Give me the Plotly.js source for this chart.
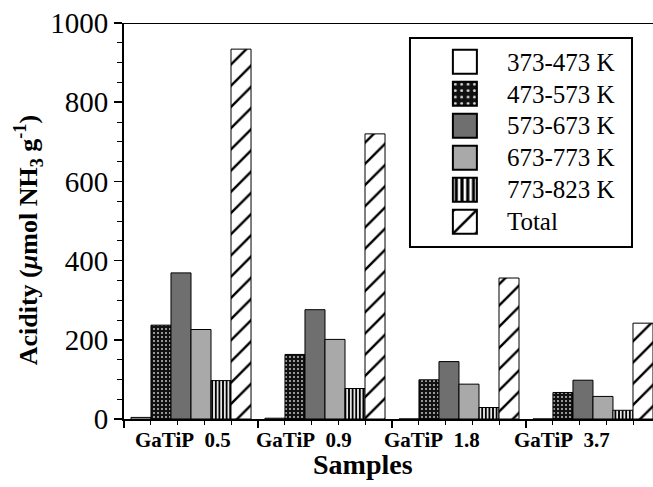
<!DOCTYPE html>
<html>
<head>
<meta charset="utf-8">
<script src="https://cdn.plot.ly/plotly-3.0.1.min.js"></script>
<style>html,body{margin:0;padding:0;background:#fff;}#chart{width:653px;height:487px;}</style>
</head>
<body>
<div id="chart"></div>
<script>
// ---- data ----
const categories = ['GaTiP\u00a0\u00a00.5', 'GaTiP\u00a0\u00a00.9', 'GaTiP\u00a0\u00a01.8', 'GaTiP\u00a0\u00a03.7'];
const seriesNames = ['373-473 K', '473-573 K', '573-673 K', '673-773 K', '773-823 K', 'Total'];
const acid373_473 = [4, 2, 0, 0];
const acid473_573 = [237, 163, 99, 67];
const acid573_673 = [369, 276, 145, 98];
const acid673_773 = [226, 201, 88, 57];
const acid773_823 = [97, 77, 29, 22];
const acidTotal = [934, 720, 356, 242];
const yTickVals = [0, 200, 400, 600, 800, 1000];

// ---- styles ----
const serif = 'Liberation Serif, Times New Roman, serif';
const xIdx = categories.map((_, i) => i);
const line = {color: '#000', width: 1};
const styles = [
  {color: '#ffffff', line: line},
  {color: '#333', line: line, pattern: {shape: '.', bgcolor: '#111111', fgcolor: '#d8d8d8', size: 4, solidity: 0.16, fillmode: 'replace'}},
  {color: '#6f6f6f', line: line},
  {color: '#a9a9a9', line: line},
  {color: '#fff', line: line, pattern: {shape: '|', bgcolor: '#ffffff', fgcolor: '#000000', size: 3.6, solidity: 0.55, fillmode: 'replace'}},
  {color: '#fff', line: line, pattern: {shape: '/', bgcolor: '#ffffff', fgcolor: '#000000', size: 15, solidity: 0.16, fillmode: 'replace'}}
];
const seriesValues = [acid373_473, acid473_573, acid573_673, acid673_773, acid773_823, acidTotal];

const traces = seriesValues.map((vals, k) => ({
  type: 'bar',
  name: '<span style="font-size:25px">' + seriesNames[k] + '</span>',
  x: xIdx,
  y: vals,
  marker: styles[k],
  hoverinfo: 'skip'
}));

// category label positions (data units along x, labels sit slightly left of their groups)
const labelPos = [-0.06, 0.843, 1.80, 2.77];
const annotations = categories.map((c, i) => ({
  x: labelPos[i], xref: 'x', y: -0.053, yref: 'paper',
  text: '<b>' + c + '</b>', showarrow: false,
  font: {family: serif, size: 21, color: '#000'}, xanchor: 'center', yanchor: 'middle'
}));
annotations.push({
  x: 0.452, xref: 'paper', y: -0.115, yref: 'paper',
  text: '<b>Samples</b>', showarrow: false,
  font: {family: serif, size: 28, color: '#000'}, xanchor: 'center', yanchor: 'middle'
});
annotations.push({
  x: -0.181, xref: 'paper', y: 0.452, yref: 'paper', textangle: -90,
  text: '<b>Acidity (<i>\u03bc</i>mol NH<sub>3</sub> g<sup>-1</sup>)</b>', showarrow: false,
  font: {family: serif, size: 26, color: '#000'}, xanchor: 'center', yanchor: 'middle'
});

const layout = {
  width: 653, height: 487,
  margin: {l: 124, r: 0, t: 23, b: 68},
  paper_bgcolor: '#fff', plot_bgcolor: '#fff',
  barmode: 'group', bargap: 0.104, bargroupgap: 0,
  showlegend: true,
  legend: {
    x: 0.565, y: 0.955, xanchor: 'left', yanchor: 'top',
    bgcolor: 'rgba(0,0,0,0)', borderwidth: 0,
    font: {family: serif, size: 22.3, color: '#000'},
    itemwidth: 74, traceorder: 'normal'
  },
  xaxis: {
    type: 'linear', range: [-0.5, 3.448], fixedrange: true,
    showgrid: false, zeroline: false, showticklabels: false,
    showline: true, linecolor: '#000', linewidth: 2,
    tickmode: 'array', tickvals: [-0.5, 0.5, 1.5, 2.5],
    ticks: 'outside', ticklen: 7, tickwidth: 1.5, tickcolor: '#000',
    minor: {tickmode: 'linear', tick0: -0.5, dtick: 0.2, ticks: 'outside', ticklen: 4, tickwidth: 1, tickcolor: '#000', showgrid: false}
  },
  yaxis: {
    range: [0, 1000], fixedrange: true,
    showgrid: false, zeroline: false,
    showline: true, linecolor: '#000', linewidth: 2,
    tickmode: 'array', tickvals: yTickVals,
    ticks: 'outside', ticklen: 8, tickwidth: 1.5, tickcolor: '#000',
    tickfont: {family: serif, size: 29, color: '#000'},
    minor: {tickmode: 'linear', tick0: 0, dtick: 50, ticks: 'outside', ticklen: 5, tickwidth: 1, tickcolor: '#000', showgrid: false}
  },
  shapes: [
    {type: 'line', xref: 'paper', yref: 'y', x0: 0, x1: 1, y0: 1000, y1: 1000, line: {color: '#000', width: 2}},
    {type: 'rect', xref: 'paper', yref: 'paper', x0: 0.5406, x1: 0.9603, y0: 0.4343, y1: 0.962, line: {color: '#000', width: 2}, fillcolor: 'rgba(0,0,0,0)'}
  ],
  annotations: annotations
};

Plotly.newPlot('chart', traces, layout, {displayModeBar: false, staticPlot: true}).then(gd => {
  // enlarge legend swatches to match the reference's large keys
  gd.querySelectorAll('.legend .legendpoints path').forEach(p => {
    const t = p.getAttribute('transform') || '';
    p.setAttribute('transform', t + ' scale(2)');
  });
});
</script>
</body>
</html>
